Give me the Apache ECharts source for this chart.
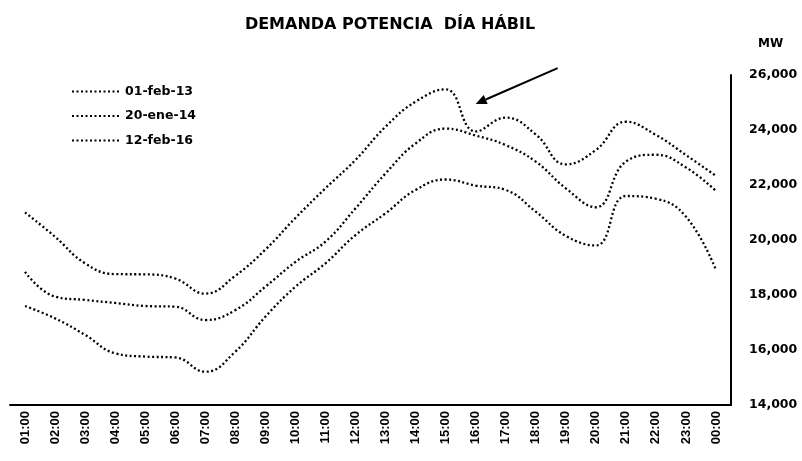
<!DOCTYPE html>
<html>
<head>
<meta charset="utf-8">
<script src="https://cdn.jsdelivr.net/npm/echarts@6/dist/echarts.min.js"></script>
<style>html,body{margin:0;padding:0;background:#fff}#c{width:802px;height:461px}</style>
</head>
<body>
<div id="c"></div>
<script>
const hours = ['01:00','02:00','03:00','04:00','05:00','06:00','07:00','08:00','09:00','10:00','11:00','12:00','13:00','14:00','15:00','16:00','17:00','18:00','19:00','20:00','21:00','22:00','23:00','00:00'];
const seriesNames = ['01-feb-13','20-ene-14','12-feb-16'];
const feb13 = [17600,17150,16550,15880,15760,15730,15210,15940,17210,18300,19150,20180,20970,21820,22200,21980,21820,21030,20150,19800,21600,21500,20850,18910];
const ene14 = [18840,17940,17820,17710,17600,17575,17090,17450,18300,19200,19940,21150,22420,23510,24050,23800,23450,22850,21880,21190,22850,23100,22640,21780];
const feb16 = [21000,20120,19150,18760,18750,18600,18050,18700,19650,20800,21880,22910,24120,25030,25480,23950,24450,23840,22750,23270,24300,23820,23090,22330];
const yTicks = {min:14000, max:26000, step:2000};
const arrowTip = {hour:'16:00', value:24950};
const arrowTail = {from:'18:00', to:'19:00', frac:0.73, value:26250};

const chart = echarts.init(document.getElementById('c'));
const font = 'Liberation Sans';
const wide = 'DejaVu Sans';
function mk(name, data){
  return {name:name, type:'line', data:data, smooth:0.45, showSymbol:false, symbol:'none',
    lineStyle:{color:'#000', width:2.3, type:[2,2.5]}, itemStyle:{color:'#000'}};
}
chart.setOption({
  animation:false,
  title:{text:'DEMANDA POTENCIA  DÍA HÁBIL', left:385, textAlign:'center', top:12,
    textStyle:{fontFamily:wide, fontWeight:'bold', fontSize:16, color:'#000'}},
  legend:{orient:'vertical', left:66, top:80, itemWidth:48, itemHeight:12, itemGap:11.5,
    data:seriesNames, itemStyle:{opacity:0},
    textStyle:{fontFamily:wide, fontWeight:'bold', fontSize:12.5, color:'#000'}},
  grid:{left:10, right:71, top:75, bottom:56},
  xAxis:{type:'category', data:hours, boundaryGap:true,
    axisLine:{lineStyle:{color:'#000', width:2}}, axisTick:{show:false},
    axisLabel:{rotate:90, fontFamily:font, fontWeight:'bold', fontSize:13, color:'#000', margin:6}},
  yAxis:{type:'value', position:'right', name:'MW', nameGap:25,
    nameTextStyle:{fontFamily:wide, fontWeight:'bold', fontSize:12, color:'#000', align:'left', padding:[0,0,0,27]},
    min:yTicks.min, max:yTicks.max, interval:yTicks.step,
    axisLine:{show:true, lineStyle:{color:'#000', width:2}}, axisTick:{show:false}, splitLine:{show:false},
    axisLabel:{fontFamily:wide, fontWeight:'bold', fontSize:12.5, color:'#000', margin:18,
      formatter:v=>v.toLocaleString('en-US')}},
  series:[mk(seriesNames[0],feb13), mk(seriesNames[1],ene14), mk(seriesNames[2],feb16)]
});
// annotation arrow
const tip = chart.convertToPixel({gridIndex:0}, [arrowTip.hour, arrowTip.value]);
const a = chart.convertToPixel({gridIndex:0}, [arrowTail.from, arrowTail.value]);
const b = chart.convertToPixel({gridIndex:0}, [arrowTail.to, arrowTail.value]);
const tail = [a[0]+(b[0]-a[0])*arrowTail.frac, a[1]];
const ang = Math.atan2(tip[1]-tail[1], tip[0]-tail[0]);
const L=11, W=5;
const bx = tip[0]-L*Math.cos(ang), by = tip[1]-L*Math.sin(ang);
chart.setOption({graphic:[
  {type:'line', shape:{x1:tail[0], y1:tail[1], x2:bx, y2:by}, style:{stroke:'#000', lineWidth:2}},
  {type:'polygon', shape:{points:[[tip[0],tip[1]],[bx-W*Math.sin(ang), by+W*Math.cos(ang)],[bx+W*Math.sin(ang), by-W*Math.cos(ang)]]}, style:{fill:'#000'}}
]});
</script>
</body>
</html>
